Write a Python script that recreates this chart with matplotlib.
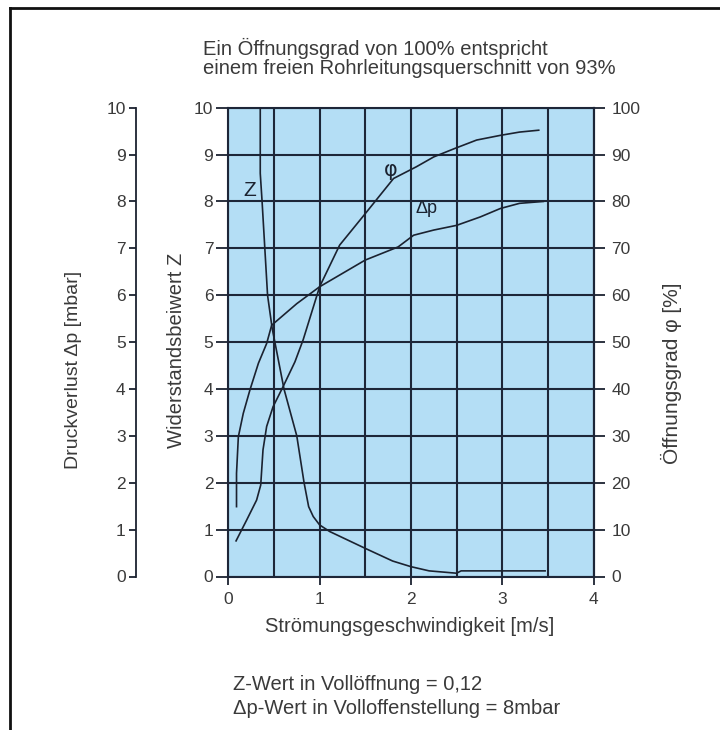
import matplotlib
matplotlib.use("Agg")
import matplotlib.pyplot as plt
from matplotlib.lines import Line2D
from matplotlib.ticker import MultipleLocator

# ---- data ----
velocity_ticks = [0, 1, 2, 3, 4]
left_ticks = [0, 1, 2, 3, 4, 5, 6, 7, 8, 9, 10]
phi_ticks = [0, 10, 20, 30, 40, 50, 60, 70, 80, 90, 100]

z_v = [0.35, 0.35, 0.37, 0.43, 0.48, 0.51, 0.61, 0.75, 0.83, 0.88, 0.93, 1.0,
       1.11, 1.5, 1.8, 2.0, 2.2, 2.5, 2.55, 3.47]
z_val = [10.0, 8.6, 8.0, 6.0, 5.3, 5.0, 4.0, 3.0, 2.0, 1.49, 1.28, 1.10,
         0.96, 0.60, 0.33, 0.21, 0.12, 0.07, 0.12, 0.12]

dp_v = [0.09, 0.09, 0.11, 0.164, 0.237, 0.33, 0.42, 0.475, 0.75, 1.0, 1.5,
        1.86, 2.03, 2.25, 2.5, 2.76, 2.98, 3.19, 3.45]
dp_val = [1.49, 2.2, 2.98, 3.48, 3.98, 4.55, 4.97, 5.36, 5.82, 6.18, 6.75,
          7.03, 7.28, 7.39, 7.49, 7.67, 7.85, 7.96, 8.0]

phi_v = [0.085, 0.2, 0.31, 0.355, 0.38, 0.42, 0.49, 0.60, 0.73, 0.82, 1.0,
         1.22, 1.5, 1.81, 2.06, 2.25, 2.48, 2.72, 2.98, 3.19, 3.40]
phi_val = [7.6, 12.0, 16.3, 19.5, 27.0, 32.0, 36.2, 40.5, 45.8, 50.5, 61.8,
           70.7, 77.4, 84.9, 87.4, 89.5, 91.3, 93.1, 94.1, 94.8, 95.2]

title_lines = ["Ein Öffnungsgrad von 100% entspricht",
               "einem freien Rohrleitungsquerschnitt von 93%"]
note_lines = ["Z-Wert in Vollöffnung = 0,12",
              "Δp-Wert in Volloffenstellung = 8mbar"]

# ---- style ----
W, H, DPI = 720, 730, 100
plt.rcParams['font.family'] = ['Liberation Sans', 'DejaVu Sans']
INK = "#1b2230"
GRID = "#1d2638"
BLUE = "#b4def5"
TXT = "#3a3a3a"
PX = 72.0 / DPI  # points per pixel

fig = plt.figure(figsize=(W / DPI, H / DPI), dpi=DPI)
fig.patch.set_facecolor("white")

x0, x1 = 228.3, 593.5
y_top, y_bot = 107.7, 576.5
ax = fig.add_axes([x0 / W, 1 - y_bot / H, (x1 - x0) / W, (y_bot - y_top) / H])
ax.set_facecolor(BLUE)
ax.set_xlim(0, 4)
ax.set_ylim(0, 10)
ax.set_xticks(velocity_ticks)
ax.xaxis.set_minor_locator(MultipleLocator(0.5))
ax.set_yticks(left_ticks)
ax.grid(True, which='both', axis='x', color=GRID, lw=1.5)
ax.grid(True, which='major', axis='y', color=GRID, lw=1.5)
ax.set_axisbelow(True)
for s in ax.spines.values():
    s.set_color(GRID)
    s.set_linewidth(1.5)
ax.tick_params(axis='x', which='major', direction='out', length=8 * PX, width=1.3,
               color=INK, labelsize=12.5, labelcolor=TXT, pad=8 * PX)
ax.tick_params(axis='x', which='minor', length=0)
ax.tick_params(axis='y', direction='out', length=12 * PX, width=1.3, color=INK,
               labelsize=12.5, labelcolor=TXT, pad=3 * PX)

# Z curve on the main axis
ax.plot(z_v, z_val, color=INK, lw=1.2, zorder=5)

# Δp axis (outer left)
ax2 = ax.twinx()
ax2.set_ylim(0, 10)
ax2.set_yticks(left_ticks)
ax2.yaxis.set_ticks_position('left')
ax2.yaxis.set_label_position('left')
for k in ('top', 'bottom', 'right'):
    ax2.spines[k].set_visible(False)
ax2.spines['left'].set_position(('outward', (x0 - 135.7) * PX))
ax2.spines['left'].set_color(INK)
ax2.spines['left'].set_linewidth(1.3)
ax2.tick_params(axis='y', direction='out', length=7 * PX, width=1.3, color=INK,
                labelsize=12.5, labelcolor=TXT, pad=3 * PX)
ax2.plot(dp_v, dp_val, color=INK, lw=1.2, zorder=5)

# φ axis (right)
ax3 = ax.twinx()
ax3.set_ylim(0, 100)
ax3.set_yticks(phi_ticks)
for k in ('top', 'bottom', 'left'):
    ax3.spines[k].set_visible(False)
ax3.spines['right'].set_color(GRID)
ax3.spines['right'].set_linewidth(1.5)
ax3.tick_params(axis='y', direction='out', length=11 * PX, width=1.3, color=INK,
                labelsize=12.5, labelcolor=TXT, pad=7 * PX)
ax3.plot(phi_v, phi_val, color=INK, lw=1.2, zorder=5)

# curve labels
ax.text(0.23, 8.24, "Z", fontsize=15, color=INK, ha='center', va='center')
ax.text(1.78, 8.67, "φ", fontsize=15, color=INK, ha='center', va='center',
        family=['DejaVu Sans'])
ax.text(2.17, 7.85, "Δp", fontsize=13, color=INK, ha='center', va='center')

# axis labels
LAB = 14.5
fig.text(410 / W, 1 - 627 / H, "Strömungsgeschwindigkeit [m/s]", fontsize=LAB,
         color=TXT, ha='center', va='center')
fig.text(73 / W, 1 - 370 / H, "Druckverlust Δp [mbar]", fontsize=LAB - 0.5,
         color=TXT, ha='center', va='center', rotation=90)
fig.text(177 / W, 1 - 350 / H, "Widerstandsbeiwert Z", fontsize=LAB,
         color=TXT, ha='center', va='center', rotation=90)
fig.text(671 / W, 1 - 373 / H, "Öffnungsgrad φ [%]", fontsize=LAB + 0.5,
         color=TXT, ha='center', va='center', rotation=90)

# title
fig.text(203 / W, 1 - 48 / H, title_lines[0], fontsize=14.5, color=TXT,
         ha='left', va='center')
fig.text(203 / W, 1 - 68 / H, title_lines[1], fontsize=14.5, color=TXT,
         ha='left', va='center')

# note
fig.text(233 / W, 1 - 685 / H, note_lines[0], fontsize=14.5, color=TXT,
         ha='left', va='center')
fig.text(233 / W, 1 - 708 / H, note_lines[1], fontsize=14.5, color=TXT,
         ha='left', va='center')

# frame
fig.add_artist(Line2D([10 / W, 1.0], [1 - 8 / H, 1 - 8 / H], color="#111111", lw=2))
fig.add_artist(Line2D([10 / W, 10 / W], [0.0, 1 - 8 / H], color="#111111", lw=2))

fig.savefig("out.png", dpi=DPI)
